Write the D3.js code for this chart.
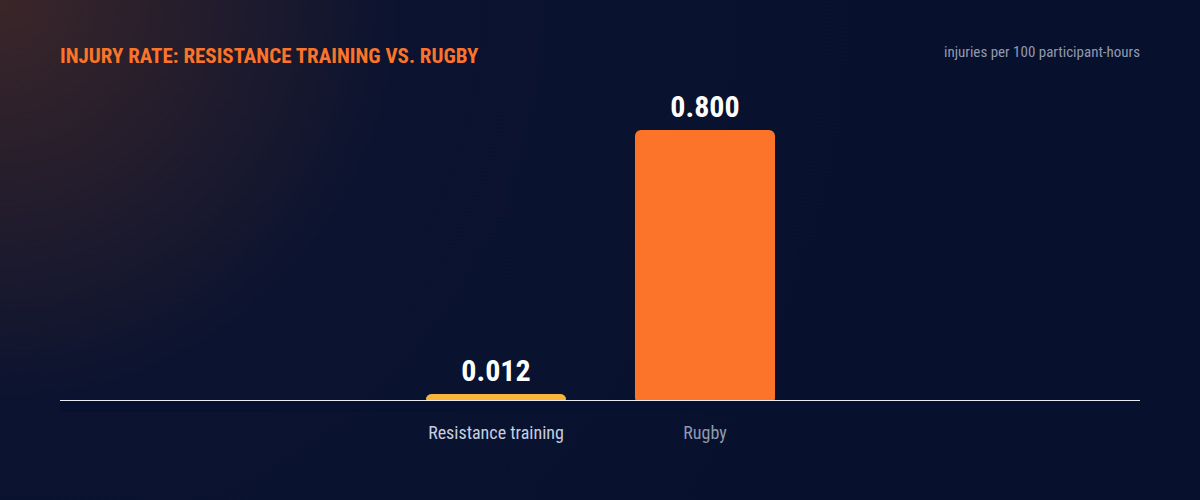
<!DOCTYPE html><html><head><meta charset="utf-8">
<script src="https://cdn.jsdelivr.net/npm/d3@7/dist/d3.min.js"></script>
<style>body{margin:0;background:#08122c}</style></head><body><svg id="c" width="1200" height="500"></svg>
<script>
const categories=["Resistance training","Rugby"];
const values=[0.012,0.8];
const labels=["0.012","0.800"];
const colors=["#f9b43c","#fc742a"];
const F="'Roboto Condensed','DejaVu Sans Condensed','Liberation Sans Narrow',sans-serif";
const svg=d3.select("#c");
const defs=svg.append("defs");
const g=defs.append("radialGradient").attr("id","bg").attr("cx","0").attr("cy","0").attr("r","0.75").attr("gradientTransform","scale(1,2.4)");
g.append("stop").attr("offset","0").attr("stop-color","#3b2629");
g.append("stop").attr("offset","0.45").attr("stop-color","#0b1330");
g.append("stop").attr("offset","1").attr("stop-color","#07112d");
svg.append("rect").attr("width",1200).attr("height",500).attr("fill","url(#bg)");
const x=d3.scaleBand().domain(categories).range([426,775]).paddingInner(0.33).paddingOuter(0);
const y=d3.scaleLinear().domain([0,0.8]).range([400,130]);
svg.append("text").attr("x",60).attr("y",63).attr("fill","#fc742a").attr("font-family",F).attr("font-weight",700).attr("font-size",21).text("INJURY RATE: RESISTANCE TRAINING VS. RUGBY");
svg.append("text").attr("x",1140).attr("y",57).attr("text-anchor","end").attr("fill","#8f9ab0").attr("font-family",F).attr("font-size",15).text("injuries per 100 participant-hours");
categories.forEach((c,i)=>{
  const h=Math.max(400-y(values[i]),6);
  svg.append("rect").attr("x",x(c)).attr("y",400-h).attr("width",x.bandwidth()).attr("height",h+4).attr("rx",6).attr("fill",colors[i]);
  svg.append("text").attr("x",x(c)+x.bandwidth()/2).attr("y",400-h-13).attr("text-anchor","middle").attr("fill","#fff").attr("font-family",F).attr("font-weight",700).attr("font-size",30).text(labels[i]);
  svg.append("text").attr("x",x(c)+x.bandwidth()/2).attr("y",439).attr("text-anchor","middle").attr("fill",i==0?"#c6cfe0":"#8f9ab0").attr("font-family",F).attr("font-size",18).text(c);
});
svg.append("rect").attr("x",60).attr("y",400).attr("width",1080).attr("height",12).attr("fill","#07112d");
svg.append("line").attr("x1",60).attr("x2",1140).attr("y1",400.5).attr("y2",400.5).attr("stroke","#e8ecf2").attr("stroke-width",1);
</script></body></html>
